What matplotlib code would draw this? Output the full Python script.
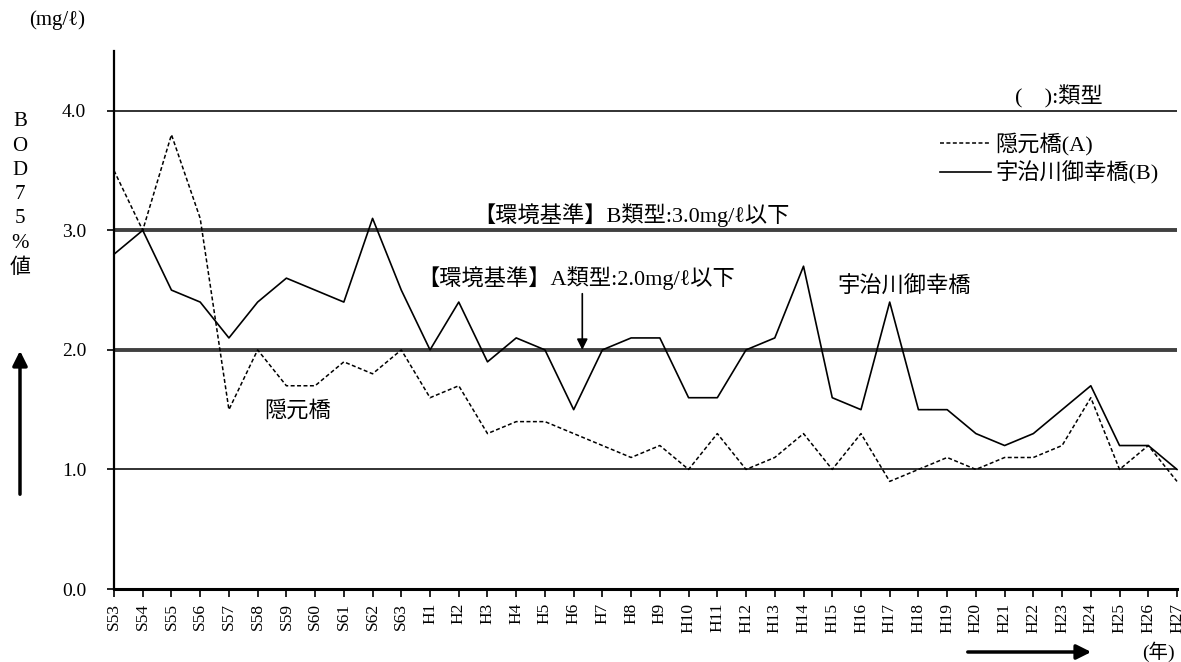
import numpy as np
import matplotlib
matplotlib.use('Agg')
import matplotlib.pyplot as plt

# data
years = ['S53', 'S54', 'S55', 'S56', 'S57', 'S58', 'S59', 'S60', 'S61', 'S62', 'S63',
         'H1', 'H2', 'H3', 'H4', 'H5', 'H6', 'H7', 'H8', 'H9', 'H10', 'H11', 'H12', 'H13',
         'H14', 'H15', 'H16', 'H17', 'H18', 'H19', 'H20', 'H21', 'H22', 'H23', 'H24',
         'H25', 'H26', 'H27']
ingen = [3.5, 3.0, 3.8, 3.1, 1.5, 2.0, 1.7, 1.7, 1.9, 1.8, 2.0,
         1.6, 1.7, 1.3, 1.4, 1.4, 1.3, 1.2, 1.1, 1.2, 1.0, 1.3, 1.0, 1.1,
         1.3, 1.0, 1.3, 0.9, 1.0, 1.1, 1.0, 1.1, 1.1, 1.2, 1.6,
         1.0, 1.2, 0.9]
miyuki = [2.8, 3.0, 2.5, 2.4, 2.1, 2.4, 2.6, 2.5, 2.4, 3.1, 2.5,
          2.0, 2.4, 1.9, 2.1, 2.0, 1.5, 2.0, 2.1, 2.1, 1.6, 1.6, 2.0, 2.1,
          2.7, 1.6, 1.5, 2.4, 1.5, 1.5, 1.3, 1.2, 1.3, 1.5, 1.7,
          1.2, 1.2, 1.0]
yticks = [0.0, 1.0, 2.0, 3.0, 4.0]
thin_lines = [1.0, 4.0]
std_lines = [2.0, 3.0]   # 環境基準 A / B

FAM = ['Liberation Serif', 'Noto Sans CJK JP', 'DejaVu Sans']
plt.rcParams['font.family'] = FAM

fig = plt.figure(figsize=(11.81, 6.62), dpi=100)
ax = fig.add_axes([114 / 1181, 73 / 662, (1177 - 114) / 1181, (589 - 51) / 662])

x = np.arange(len(years))

for v in thin_lines:
    ax.axhline(v, color='#222222', lw=1.3, zorder=1)
for v in std_lines:
    ax.axhline(v, color='#404040', lw=2.8, zorder=1)

ax.plot(x, ingen, color='black', lw=1.1, dashes=(2.6, 1.6), label='隠元橋(A)',
        zorder=3, clip_on=False)
ax.plot(x, miyuki, color='black', lw=1.2, label='宇治川御幸橋(B)', zorder=3, clip_on=False)

ax.set_xlim(0, len(years) - 1)
ax.set_ylim(0, 4.5)
ax.set_xticks(x)
ax.set_xticklabels(years, rotation=90, fontsize=12.5)
ax.set_yticks(yticks)
ax.set_yticklabels(['%.1f' % v for v in yticks], fontsize=14)
ax.tick_params(axis='y', direction='out', length=5, width=1.2, pad=15)
ax.tick_params(axis='x', direction='out', length=6, width=1.2, pad=4)

for s in ['top', 'right']:
    ax.spines[s].set_visible(False)
ax.spines['left'].set_linewidth(1.6)
ax.spines['bottom'].set_linewidth(2.2)

# annotations
ax.text(18.0, 3.03, '【環境基準】B類型:3.0mg/ℓ以下', ha='center', va='bottom', fontsize=16)
ax.text(16.1, 2.6, '【環境基準】A類型:2.0mg/ℓ以下', ha='center', va='center', fontsize=16)
ax.annotate('', xy=(16.3, 2.0), xytext=(16.3, 2.47),
            arrowprops=dict(arrowstyle='-|>', color='black', lw=1.2, mutation_scale=16,
                            shrinkA=0, shrinkB=0))
ax.text(27.5, 2.52, '宇治川御幸橋', ha='center', va='center', fontsize=16)
ax.text(6.4, 1.49, '隠元橋', ha='center', va='center', fontsize=16)
ax.text(32.9, 4.12, '(　):類型', ha='center', va='center', fontsize=16)

ax.legend(loc='upper left', bbox_to_anchor=(940 / 1181, (662 - 133) / 662),
          bbox_transform=fig.transFigure, frameon=False, fontsize=16,
          handlelength=2.3, handletextpad=0.2, labelspacing=0.25,
          borderpad=0, borderaxespad=0)

# outer labels
fig.text(57 / 1181, 1 - 20 / 662, '(mg/ℓ)', ha='center', va='center', fontsize=15)
fig.text(20 / 1181, 1 - 195 / 662, 'B\nO\nD\n7\n5\n%\n値', ha='center', va='center',
         fontsize=15, linespacing=1.38)
fig.text(1158 / 1181, 1 - 652 / 662, '(年)', ha='center', va='center', fontsize=14)

fig.add_artist(matplotlib.patches.FancyArrowPatch(
    (20 / 1181, 1 - 497 / 662), (20 / 1181, 1 - 348 / 662), transform=fig.transFigure,
    arrowstyle='-|>', mutation_scale=22, lw=2.5, color='black'))
fig.add_artist(matplotlib.patches.FancyArrowPatch(
    (965 / 1181, 1 - 652 / 662), (1094 / 1181, 1 - 652 / 662), transform=fig.transFigure,
    arrowstyle='-|>', mutation_scale=22, lw=2.5, color='black'))

fig.savefig('out.png', dpi=100)
